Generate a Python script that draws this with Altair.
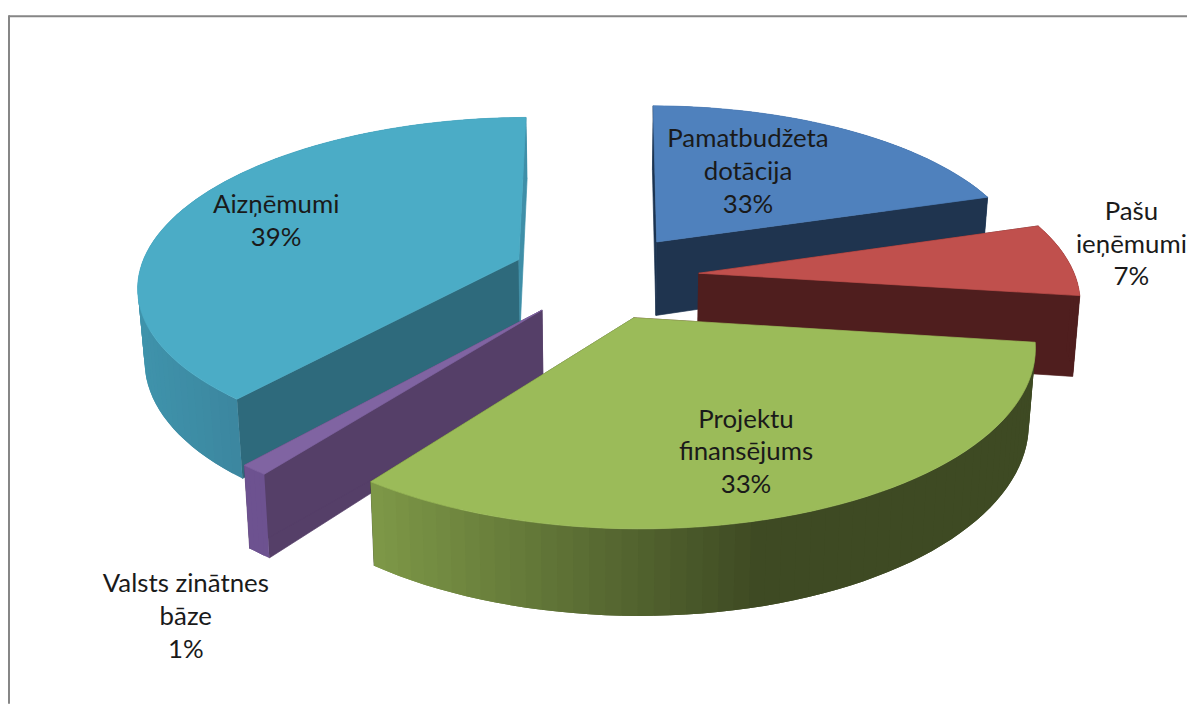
import math
import altair as alt

# Slice sizes as drawn (clockwise from 12 o'clock), printed labels are separate
names = ["Pamatbudžeta dotācija", "Pašu ieņēmumi", "Projektu finansējums", "Valsts zinātnes bāze", "Aizņēmumi"]
shares = [20, 7, 33, 1, 38.7]
label_text = ["Pamatbudžeta\ndotācija\n33%", "Pašu\nieņēmumi\n7%", "Projektu\nfinansējums\n33%", "Valsts zinātnes\nbāze\n1%", "Aizņēmumi\n39%"]
label_x = [753, 1139, 751, 187, 278]
label_y = [138, 211, 420, 586, 204]
top_colors = ["#4f81bd", "#c0504d", "#9bbb59", "#8064a2", "#4bacc6"]
start_face = ["#1b3350", "#4f1e1e", "#4f1e1e", "#553f68", "#2e6a7c"]
end_face = ["#1f344f", "#4f1e1e", "#3e4a23", "#553f68", "#3f8fa8"]
outer_left = ["#3a608e", "#4f1e1e", "#7f9a48", "#6d5290", "#3f93ab"]
outer_right = ["#3a608e", "#4f1e1e", "#3e4a23", "#6d5290", "#3c87a0"]
draw_order = [0, 1, 4, 3, 2]
nudge_x = [-3, 2, -10, -9, -6]
nudge_y = [-4, 0, 4, 2, -4]
radius_factor = [0.965, 0.972, 0.99, 1.0, 0.98]
wall = [76, 80, 72, 72, 72]

CX, CY = 612, 276
R, C, D = 390, 0.438, 2630
EXPLODE, K = 90, 0.015
ROT = 0.5


def proj(X, Y, lower, i):
    s = 1 / (1 - Y / D)
    x = X * s
    y = C * Y * s
    if lower:
        x *= 1 - K
        y += wall[i] * s
    return [CX + x + nudge_x[i], CY + y + nudge_y[i]]


def hexmix(a, b, t):
    ca = [int(a[i:i + 2], 16) for i in (1, 3, 5)]
    cb = [int(b[i:i + 2], 16) for i in (1, 3, 5)]
    return "#" + "".join(f"{round(u + (v - u) * t):02x}" for u, v in zip(ca, cb))


def feature(points, color, w=0.7):
    ring = points + [points[0]]
    return {"type": "Feature", "properties": {"c": color, "w": w},
            "geometry": {"type": "Polygon", "coordinates": [ring]}}


bounds = []
acc = ROT
for share in shares:
    span = share * 3.6
    bounds.append((acc, acc + span))
    acc += span

features = []
for i in draw_order:
    a0, a1 = bounds[i]
    mid = math.radians((a0 + a1) / 2)
    ox, oy = EXPLODE * math.sin(mid), -EXPLODE * math.cos(mid)
    n = max(4, int((a1 - a0) / 2))
    angs = [math.radians(a0 + (a1 - a0) * j / n) for j in range(n + 1)]
    r = R * radius_factor[i]
    rim = [(ox + r * math.sin(t), oy - r * math.cos(t)) for t in angs]
    apex = (ox, oy)

    def strip(j):
        p, q = rim[j], rim[j + 1]
        far = rim[min(n, j + 2)]
        sx = proj(*p, False, i)[0]
        if i == 2:
            t = min(1, max(0, (sx - 372) / 400))
        else:
            t = min(1, max(0, (sx - 140) / 100))
        return feature([proj(*p, False, i), proj(*q, False, i), proj(*far, False, i),
                        proj(*far, True, i), proj(*q, True, i), proj(*p, True, i)],
                       hexmix(outer_left[i], outer_right[i], t), 0)

    front = [j for j in range(n) if math.cos((angs[j] + angs[j + 1]) / 2) < 0]
    back = [j for j in range(n) if j not in front]
    features += [strip(j) for j in back]
    for p, col in ((rim[0], start_face[i]), (rim[-1], end_face[i])):
        features.append(feature([proj(*apex, False, i), proj(*p, False, i), proj(*p, True, i), proj(*apex, True, i)], col))
    features += [strip(j) for j in front]
    features.append(feature([proj(*apex, False, i)] + [proj(*p, False, i) for p in rim], top_colors[i]))

W, Ht = 1187, 698

shapes = alt.Chart(alt.Data(values=features)).mark_geoshape().encode(
    color=alt.Color("properties.c:N", scale=None),
    stroke=alt.Stroke("properties.c:N", scale=None),
    strokeWidth=alt.StrokeWidth("properties.w:Q", scale=None),
).project(type="identity", scale=1, translate=[-8, -8])

frame_top = alt.Chart().mark_rule(color="#868686", strokeWidth=2).encode(
    x=alt.value(1), x2=alt.value(W), y=alt.value(6))
frame_left = alt.Chart().mark_rule(color="#868686", strokeWidth=2).encode(
    x=alt.value(1), y=alt.value(5), y2=alt.value(Ht))

labels = alt.Chart(alt.Data(values=[
    {"t": t, "x": x - 8, "y": y - 8} for t, x, y in zip(label_text, label_x, label_y)
])).mark_text(font="Lato", fontSize=26, lineBreak="\n", lineHeight=33, color="#1a1a1a", align="center", baseline="middle").encode(
    x=alt.X("x:Q", scale=None), y=alt.Y("y:Q", scale=None), text="t:N")

chart = alt.layer(frame_top, frame_left, shapes, labels).properties(
    width=W, height=Ht, padding=0, autosize=alt.AutoSizeParams(type="none"), background="white"
).configure_view(stroke=None)

chart.save("out.html", embed_options={"renderer": "svg", "actions": False})
